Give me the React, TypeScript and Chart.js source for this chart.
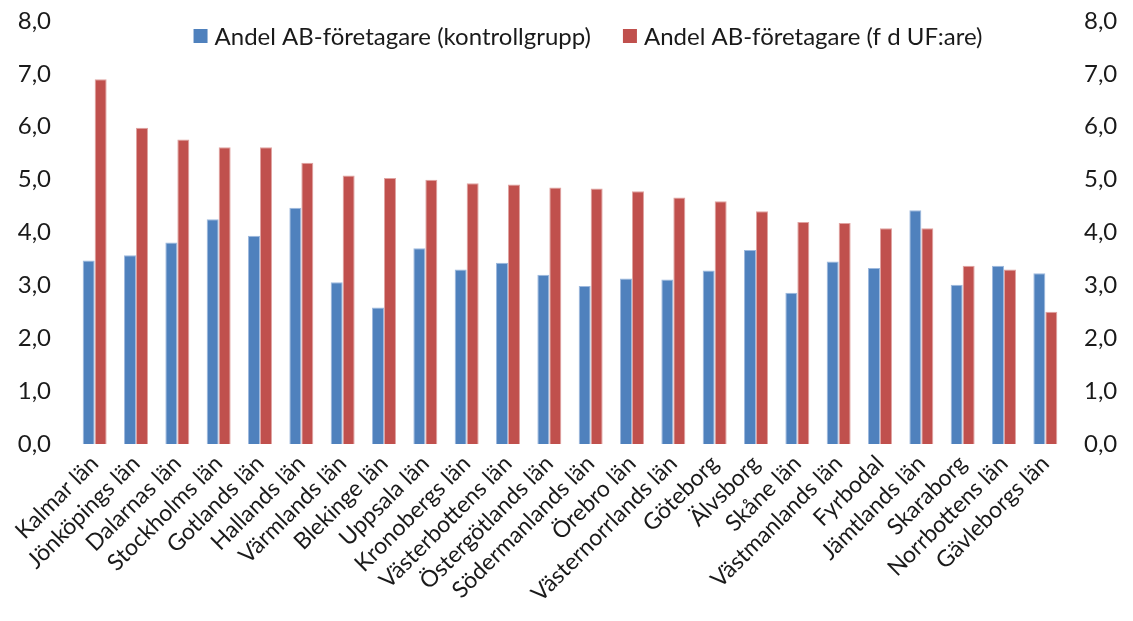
import React, { useEffect, useRef } from "react";
import { Chart, registerables } from "chart.js";

Chart.register(...registerables);

const categories = [
  "Kalmar län", "Jönköpings län", "Dalarnas län", "Stockholms län", "Gotlands län",
  "Hallands län", "Värmlands län", "Blekinge län", "Uppsala län", "Kronobergs län",
  "Västerbottens län", "Östergötlands län", "Södermanlands län", "Örebro län",
  "Västernorrlands län", "Göteborg", "Älvsborg", "Skåne län", "Västmanlands län",
  "Fyrbodal", "Jämtlands län", "Skaraborg", "Norrbottens län", "Gävleborgs län",
];

const kontrollgrupp = [
  3.47, 3.57, 3.81, 4.25, 3.94, 4.47, 3.06, 2.58, 3.70, 3.30, 3.43, 3.20,
  2.99, 3.13, 3.11, 3.28, 3.67, 2.86, 3.45, 3.33, 4.42, 3.01, 3.37, 3.23,
];

const ufare = [
  6.90, 5.98, 5.76, 5.61, 5.61, 5.32, 5.08, 5.03, 5.00, 4.93, 4.91, 4.85,
  4.83, 4.78, 4.66, 4.59, 4.40, 4.20, 4.18, 4.08, 4.08, 3.37, 3.30, 2.50,
];

const seriesNames = [
  "Andel AB-företagare (kontrollgrupp)",
  "Andel AB-företagare (f d UF:are)",
];

const yMin = 0;
const yMax = 8;
const yStep = 1;

const BLUE = "#4F81BD";
const RED = "#C0504D";
const FONT = "Lato, 'Open Sans', sans-serif";
const TEXT = "#1a1a1a";

const fmt = (v: any) => Number(v).toFixed(1).replace(".", ",");

const legendPlugin = {
  id: "customLegend",
  afterDraw(chart: any) {
    const ctx = chart.ctx;
    const area = chart.chartArea;
    const ds = chart.data.datasets;
    ctx.save();
    ctx.font = `24px ${FONT}`;
    ctx.textBaseline = "middle";
    ctx.textAlign = "left";
    const box = 14;
    const gapBoxText = 7;
    const gapItems = 32;
    const widths = ds.map((d: any) => ctx.measureText(d.label).width);
    let total = 0;
    widths.forEach((w: number, i: number) => {
      total += box + gapBoxText + w + (i < widths.length - 1 ? gapItems : 0);
    });
    const cx = (area.left + area.right) / 2 + 18;
    let x = cx - total / 2;
    const y = area.top + 15;
    ds.forEach((d: any, i: number) => {
      ctx.fillStyle = d.backgroundColor;
      ctx.fillRect(x, y - box / 2, box, box);
      x += box + gapBoxText;
      ctx.fillStyle = TEXT;
      ctx.fillText(d.label, x, y + 1);
      x += widths[i] + gapItems;
    });
    ctx.restore();
  },
};

export default function App() {
  const ref = useRef<HTMLCanvasElement | null>(null);

  useEffect(() => {
    if (!ref.current) return;
    const chart = new Chart(ref.current, {
      type: "bar",
      data: {
        labels: categories,
        datasets: [
          {
            label: seriesNames[0],
            data: kontrollgrupp,
            backgroundColor: BLUE,
            borderColor: "#9DB9DE",
            borderWidth: 1,
            yAxisID: "y",
          },
          {
            label: seriesNames[1],
            data: ufare,
            backgroundColor: RED,
            borderColor: "#E0A3A1",
            borderWidth: 1,
            yAxisID: "y",
          },
        ],
      },
      options: {
        animation: false,
        responsive: true,
        maintainAspectRatio: false,
        layout: { padding: { top: 13, left: 0, right: 0, bottom: 0 } },
        plugins: {
          legend: { display: false },
          tooltip: { enabled: false },
        },
        datasets: {
          bar: { categoryPercentage: 0.58, barPercentage: 1.0 },
        },
        scales: {
          x: {
            grid: { display: false, drawTicks: false },
            border: { display: false },
            ticks: {
              autoSkip: false,
              maxRotation: 45,
              minRotation: 45,
              padding: 6,
              color: TEXT,
              font: { family: FONT, size: 23 },
            },
            afterFit: (s: any) => {
              s.height = 169;
              s.paddingLeft = 0;
              s.paddingRight = 0;
              s.paddingTop = 0;
              s.paddingBottom = 0;
            },
          },
          y: {
            position: "left",
            min: yMin,
            max: yMax,
            grid: { display: false, drawTicks: false },
            border: { display: false },
            ticks: {
              stepSize: yStep,
              padding: 23,
              color: TEXT,
              font: { family: FONT, size: 24 },
              callback: (v: any) => fmt(v),
            },
            afterFit: (s: any) => {
              s.width = 66;
              s.paddingTop = 0;
              s.paddingBottom = 0;
              s.paddingLeft = 0;
              s.paddingRight = 0;
            },
          },
          y1: {
            position: "right",
            min: yMin,
            max: yMax,
            grid: { display: false, drawTicks: false },
            border: { display: false },
            ticks: {
              stepSize: yStep,
              padding: 18,
              color: TEXT,
              font: { family: FONT, size: 24 },
              callback: (v: any) => fmt(v),
            },
            afterFit: (s: any) => {
              s.width = 59;
              s.paddingTop = 0;
              s.paddingBottom = 0;
              s.paddingLeft = 0;
              s.paddingRight = 0;
            },
          },
        },
      },
      plugins: [legendPlugin],
    });
    return () => chart.destroy();
  }, []);

  return (
    <div style={{ position: "relative", width: "1117px", height: "605px" }}>
      <canvas ref={ref} />
    </div>
  );
}
